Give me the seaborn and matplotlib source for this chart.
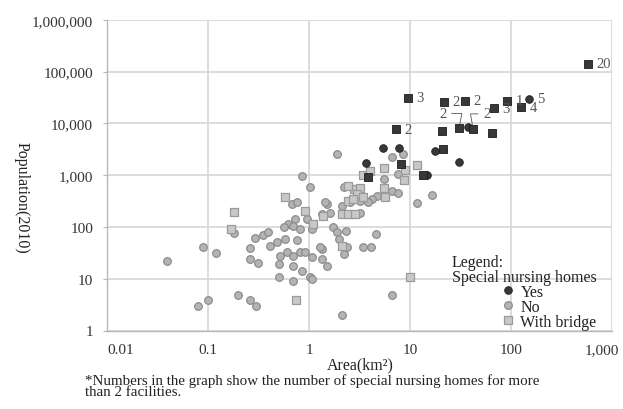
import matplotlib
matplotlib.use("Agg")
import matplotlib.pyplot as plt
import matplotlib.transforms as mtrans
from matplotlib.lines import Line2D
from matplotlib.ticker import NullLocator
import pandas as pd
import seaborn as sns

# ---------------- data ----------------
no_area = [0.039, 0.09, 0.12, 0.08, 0.10, 0.20, 0.26, 0.30,
           0.29, 0.35, 0.39, 0.26, 0.26, 0.31, 0.18,
           1.9, 0.86, 1.03, 2.1, 0.5, 0.7, 1.03, 1.08,
           2.2, 1.5, 1.35, 1.6, 0.68, 0.76, 0.96, 0.73,
           0.62, 0.56, 0.70, 0.82, 1.08, 0.48, 0.58, 0.76,
           0.41, 0.52, 0.61, 0.70, 0.82, 0.92, 1.08, 0.50,
           0.70, 0.86, 1.35, 1.35, 1.5, 1.74, 1.9, 2.33,
           2.0, 2.2, 2.1, 16.6, 11.8, 4.6, 3.4, 4.1, 6.7,
           6.7, 8.6, 7.6, 5.5, 6.7, 7.6, 4.7, 4.2, 3.8,
           3.2, 3.2, 1.45, 1.29, 2.4, 2.56]
no_pop = [22, 41, 31, 3.0, 3.9, 4.8, 3.9, 3.0,
          61, 70, 80, 39, 24, 20, 76,
          2550, 960, 590, 2.0, 11, 9, 11, 9.9,
          590, 280, 177, 185, 277, 300, 142, 142,
          114, 100, 104, 91, 91, 51, 58, 56,
          43, 27, 33, 27, 33, 33, 26, 19,
          17.6, 14, 37, 24, 17.6, 100, 80, 83,
          58, 30, 253, 413, 290, 73, 41, 41, 4.8,
          2230, 2550, 1050, 840, 490, 450, 395, 346, 303,
          316, 185, 303, 41, 41, 303]

bridge_area = [0.18, 0.17, 0.75, 0.58, 0.92, 1.1, 2.1, 10.0,
               5.5, 11.8, 9.0, 3.4, 4.0, 8.8, 2.8, 3.2,
               3.0, 3.4, 5.5, 5.7, 2.44, 2.44, 2.74, 2.13, 2.44, 2.87, 1.38]
bridge_pop = [194, 91, 3.9, 378, 203, 114, 43, 10.8,
              1370, 1570, 1250, 1000, 1200, 800, 540, 564,
              430, 378, 564, 378, 616, 316, 346, 177, 177, 177, 162]

yes_area = [151, 37.7, 5.43, 7.82, 17.8, 30.7, 3.69, 14.8]
yes_pop = [29500, 8480, 3340, 3340, 2920, 1790, 1710, 1005]
yes_labels = ["5", "", "", "", "", "", "", ""]

yesb_area = [580, 9.6, 21.8, 35.2, 91.7, 68.2, 126, 7.3,
             20.8, 30.7, 42.2, 65.2, 21.3, 8.18, 3.86, 13.5]
yesb_pop = [140000, 30800, 25800, 27000, 27000, 19700, 20600, 7760,
            7100, 8100, 7720, 6500, 3190, 1640, 919, 1005]
yesb_labels = ["20", "3", "2", "2", "1", "3", "4", "2",
               "", "2", "2", "", "", "", "", ""]

x_ticks = [0.01, 0.1, 1, 10, 100, 1000]
x_tick_labels = ["0.01", "0.1", "1", "10", "100", "1,000"]
y_ticks = [1, 10, 100, 1000, 10000, 100000, 1000000]
y_tick_labels = ["1", "10", "100", "1,000", "10,000", "100,000", "1,000,000"]

legend_labels = ["Yes", "No", "With bridge"]

# ---------------- figure ----------------
sns.set_theme(style="white")
plt.rcParams["font.family"] = ["Liberation Serif", "DejaVu Serif"]

fig = plt.figure(figsize=(6.23, 4.10), dpi=100)
W, H = 623, 410
ax = fig.add_axes([107 / W, 1 - 331.5 / H, (612 - 107) / W, (331.5 - 20.7) / H])

df_no = pd.DataFrame({"area": no_area, "pop": no_pop})
df_br = pd.DataFrame({"area": bridge_area, "pop": bridge_pop})
df_yes = pd.DataFrame({"area": yes_area, "pop": yes_pop})
df_yb = pd.DataFrame({"area": yesb_area, "pop": yesb_pop})

gray_face, gray_edge = "#b4b4b4", "#8c8c8c"
sq_face, sq_edge = "#c8c8c8", "#9a9a9a"
dark_face, dark_edge = "#383838", "#1c1c1c"

sns.scatterplot(data=df_no, x="area", y="pop", marker="o", s=30, color=gray_face,
                edgecolor=gray_edge, linewidth=0.9, ax=ax, legend=False, zorder=3)
sns.scatterplot(data=df_br, x="area", y="pop", marker="s", s=33, color=sq_face,
                edgecolor=sq_edge, linewidth=0.9, ax=ax, legend=False, zorder=3)
sns.scatterplot(data=df_yes, x="area", y="pop", marker="o", s=30, color=dark_face,
                edgecolor=dark_edge, linewidth=0.6, ax=ax, legend=False, zorder=4)
sns.scatterplot(data=df_yb, x="area", y="pop", marker="s", s=33, color=dark_face,
                edgecolor=dark_edge, linewidth=0.6, ax=ax, legend=False, zorder=4)

ax.set_xscale("log")
ax.set_yscale("log")
ax.set_xlim(0.01, 1000)
ax.set_ylim(1, 1000000)
ax.set_xticks(x_ticks)
ax.set_xticklabels(x_tick_labels)
ax.set_yticks(y_ticks)
ax.set_yticklabels(y_tick_labels)
ax.xaxis.set_minor_locator(NullLocator())
ax.yaxis.set_minor_locator(NullLocator())
ax.set_xlabel("")
ax.set_ylabel("")

ax.grid(True, which="major", color="#d6d6d6", linewidth=1.2, zorder=0)
ax.set_axisbelow(True)
for side in ["top", "right"]:
    ax.spines[side].set_visible(False)
for side in ["left", "bottom"]:
    ax.spines[side].set_color("#b8b8b8")
    ax.spines[side].set_linewidth(1.0)

ax.tick_params(axis="y", which="major", left=True, length=3, width=0.8,
               color="#b8b8b8", pad=7, labelsize=11, labelcolor="#333333")
ax.tick_params(axis="x", which="major", bottom=False, length=0, pad=9,
               labelsize=11, labelcolor="#333333")

xl = ax.get_xticklabels()
xl[0].set_horizontalalignment("left")
xl[-1].set_transform(xl[-1].get_transform() +
                     mtrans.ScaledTranslation(-10 / 100, 0, fig.dpi_scale_trans))

# ---------------- point labels ----------------
lab_kw = dict(textcoords="offset points", ha="left", va="center",
              fontsize=10.5, color="#555555", zorder=5)
for (xv, yv, lab) in zip(yes_area, yes_pop, yes_labels):
    if lab:
        ax.annotate(lab, (xv, yv), xytext=(6, 0), **lab_kw)
for i, (xv, yv, lab) in enumerate(zip(yesb_area, yesb_pop, yesb_labels)):
    if not lab:
        continue
    if i == 9:
        ax.annotate(lab, (xv, yv), xytext=(-14, 10.5),
                    arrowprops=dict(arrowstyle="-", color="#555555", lw=0.6,
                                    shrinkA=1, shrinkB=3,
                                    connectionstyle="angle,angleA=0,angleB=80,rad=0"),
                    **lab_kw)
    elif i == 10:
        ax.annotate(lab, (xv, yv), xytext=(7, 11),
                    arrowprops=dict(arrowstyle="-", color="#555555", lw=0.6,
                                    shrinkA=1, shrinkB=3,
                                    connectionstyle="angle,angleA=180,angleB=100,rad=0"),
                    **lab_kw)
    else:
        ax.annotate(lab, (xv, yv), xytext=(6, 0), **lab_kw)

# ---------------- legend ----------------
fig.text(452 / W, 1 - 263 / H, "Legend:", fontsize=11.5, va="center", ha="left", color="#222222")
fig.text(452 / W, 1 - 278 / H, "Special nursing homes", fontsize=11.5, va="center",
         ha="left", color="#222222")
handles = [
    Line2D([], [], ls="", marker="o", ms=5.5, mfc=dark_face, mec=dark_edge, mew=0.6),
    Line2D([], [], ls="", marker="o", ms=5.5, mfc=gray_face, mec=gray_edge, mew=0.9),
    Line2D([], [], ls="", marker="s", ms=6, mfc=sq_face, mec=sq_edge, mew=0.9),
]
leg = ax.legend(handles, legend_labels, loc="lower left",
                bbox_to_anchor=(502 / W, 1 - 331 / H), bbox_transform=fig.transFigure,
                frameon=False, fontsize=11.5, borderpad=0, borderaxespad=0,
                handlelength=0.8, handletextpad=0.35, labelspacing=-0.05)
for t in leg.get_texts():
    t.set_color("#222222")

# ---------------- axis titles & note ----------------
fig.text(360 / W, 1 - 365 / H, "Area(km²)", fontsize=11.5, ha="center", va="center",
         color="#222222")
fig.text(22 / W, 1 - 198 / H, "Population(2010)", fontsize=11.5, ha="center", va="center",
         rotation=-90, color="#222222")
fig.text(85 / W, 1 - 381 / H,
         "*Numbers in the graph show the number of special nursing homes for more",
         fontsize=10.8, ha="left", va="center", color="#222222")
fig.text(85 / W, 1 - 393 / H, "than 2 facilities.", fontsize=10.8, ha="left",
         va="center", color="#222222")

fig.savefig("out.png", dpi=100)
